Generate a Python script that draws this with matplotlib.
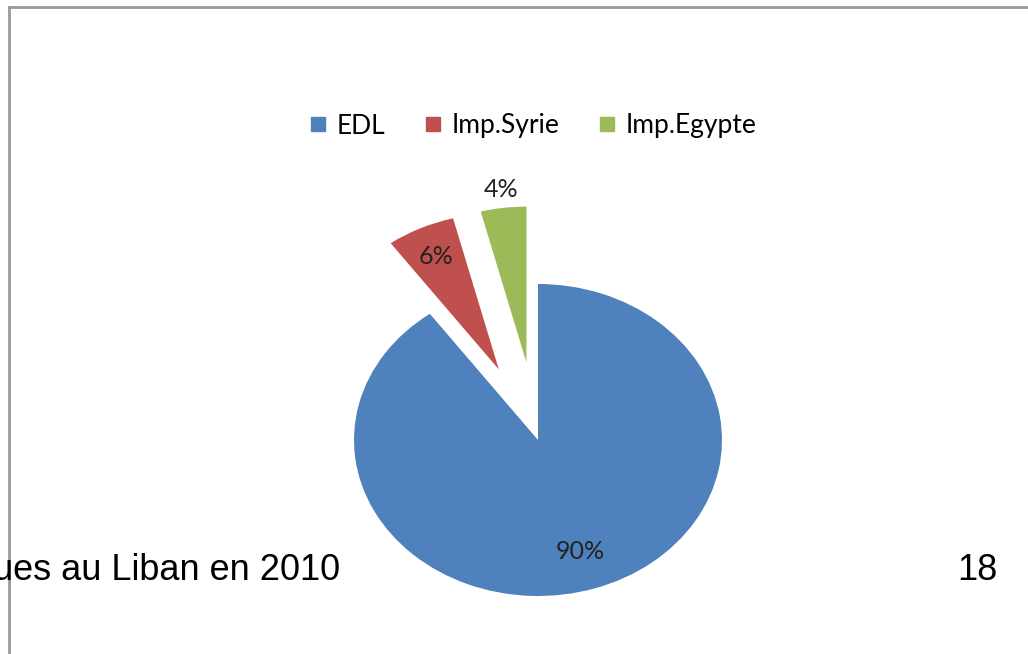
import numpy as np
import matplotlib
matplotlib.use("Agg")
import matplotlib.pyplot as plt
from matplotlib.lines import Line2D

# data
labels = ["EDL", "Imp.Syrie", "Imp.Egypte"]
shares = [90, 6, 4]
colors = ["#4F81BD", "#C0504D", "#9BBB59"]
explode = [0.0, 0.5, 0.5]
label_dist = [0.75, 0.8, 1.12]

W, H = 1028, 654
fig = plt.figure(figsize=(W / 100, H / 100), dpi=100)
ax = fig.add_axes([0, 0, 1, 1])

wedges, _ = ax.pie(shares, colors=colors, explode=explode, startangle=90,
                   counterclock=False, radius=1.0,
                   wedgeprops=dict(linewidth=0))

# squash the pie like the original (center at 538,440 px; radii 184 x 156 px)
cx, cy, rx, ry = 538, 440, 184, 156
ax.set_aspect("auto")
ax.set_xlim(-cx / rx, (W - cx) / rx)
ax.set_ylim(-(H - cy) / ry, cy / ry)
ax.axis("off")

for w, s, d in zip(wedges, shares, label_dist):
    ang = np.deg2rad((w.theta1 + w.theta2) / 2)
    x0, y0 = w.center
    ax.text(x0 + d * np.cos(ang), y0 + d * np.sin(ang), f"{s}%",
            ha="center", va="center", fontsize=18, family="Lato",
            color="#222222")

handles = [Line2D([], [], marker="s", linestyle="none", markersize=10,
                  markerfacecolor=c, markeredgecolor=c) for c in colors]
fig.legend(handles, labels, loc="center", bbox_to_anchor=(0.515, 1 - 126 / H),
           ncol=3, frameon=False, handletextpad=0.1, columnspacing=1.2,
           handlelength=1.2, prop=dict(family="Lato", size=19))

# slide frame and overlaid slide text
fig.add_artist(Line2D([9 / W, 9 / W], [0, 1 - 7 / H], color="#999999", lw=2))
fig.add_artist(Line2D([9 / W, 1], [1 - 7 / H, 1 - 7 / H], color="#999999", lw=2))
fig.text(340 / W, 1 - 580 / H, "ques au Liban en 2010", ha="right",
         va="baseline", fontsize=26, family="Liberation Sans")
fig.text(997 / W, 1 - 580 / H, "18", ha="right", va="baseline",
         fontsize=26, family="Liberation Sans")

fig.savefig("out.png", dpi=100, facecolor="white")
